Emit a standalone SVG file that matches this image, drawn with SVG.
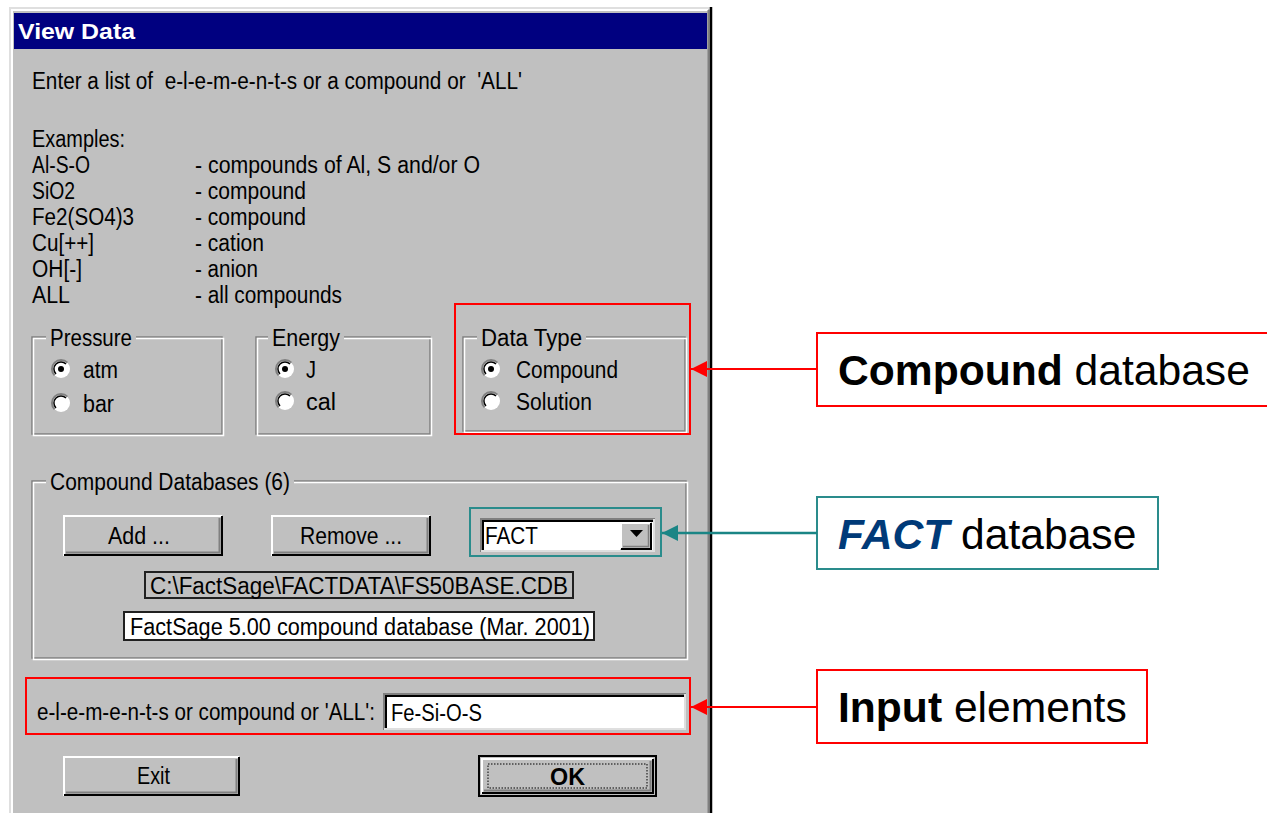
<svg xmlns="http://www.w3.org/2000/svg" width="1267" height="813" viewBox="0 0 1267 813">
<defs>
<style>
.t{font-family:"Liberation Sans",Arial,sans-serif;font-size:23px;fill:#000;white-space:pre}
.tb{font-family:"Liberation Sans",Arial,sans-serif;font-size:22px;font-weight:bold;fill:#fff}
.c{font-family:"Liberation Sans",Arial,sans-serif;font-size:42.6px;fill:#000}
.hl{fill:none;stroke:#ff0000;stroke-width:2}
.hlt{fill:none;stroke:#2a8c8c;stroke-width:2}
.etchd{fill:none;stroke:#808080;stroke-width:1.5}
.etchl{fill:none;stroke:#ffffff;stroke-width:1.5}
.lt{fill:none;stroke:#ffffff;stroke-width:2}
.dk{fill:none;stroke:#000000;stroke-width:2}
.md{fill:none;stroke:#808080;stroke-width:2}
.bg{fill:#c0c0c0}
</style>
<marker id="arR" markerUnits="userSpaceOnUse" markerWidth="16" markerHeight="16" refX="16" refY="8" orient="auto">
<path d="M0,0 L16,8 L0,16 Z" fill="#ff0000"/>
</marker>
<marker id="arT" markerUnits="userSpaceOnUse" markerWidth="16" markerHeight="16" refX="16" refY="8" orient="auto">
<path d="M0,0 L16,8 L0,16 Z" fill="#1a8585"/>
</marker>
</defs>
<rect width="1267" height="813" fill="#ffffff"/>

<g id="window">
<rect x="9" y="7" width="703" height="810" fill="#c0c0c0"/>
<polyline points="10,813 10,8 710,8" fill="none" stroke="#dfdfdf" stroke-width="2"/>
<polyline points="12,813 12,10 708,10" fill="none" stroke="#ffffff" stroke-width="2"/>
<line x1="708.5" y1="10" x2="708.5" y2="813" stroke="#808080" stroke-width="2"/>
<line x1="711" y1="7" x2="711" y2="813" stroke="#000000" stroke-width="2.5"/>
<rect x="14" y="13" width="693" height="36" fill="#000080"/>
<text class="tb" x="18" y="39" textLength="117" lengthAdjust="spacingAndGlyphs">View Data</text>
</g>

<g id="intro">
<text class="t" x="32" y="89" textLength="490" lengthAdjust="spacingAndGlyphs">Enter a list of  e-l-e-m-e-n-t-s or a compound or  'ALL'</text>
<text class="t" x="32" y="147" textLength="93" lengthAdjust="spacingAndGlyphs">Examples:</text>
<text class="t" x="32" y="173" textLength="58" lengthAdjust="spacingAndGlyphs">Al-S-O</text>
<text class="t" x="32" y="199" textLength="43" lengthAdjust="spacingAndGlyphs">SiO2</text>
<text class="t" x="32" y="225" textLength="102" lengthAdjust="spacingAndGlyphs">Fe2(SO4)3</text>
<text class="t" x="32" y="251" textLength="62" lengthAdjust="spacingAndGlyphs">Cu[++]</text>
<text class="t" x="32" y="277" textLength="50" lengthAdjust="spacingAndGlyphs">OH[-]</text>
<text class="t" x="32" y="303" textLength="38" lengthAdjust="spacingAndGlyphs">ALL</text>
<text class="t" x="195" y="173" textLength="285" lengthAdjust="spacingAndGlyphs">- compounds of Al, S and/or O</text>
<text class="t" x="195" y="199" textLength="111" lengthAdjust="spacingAndGlyphs">- compound</text>
<text class="t" x="195" y="225" textLength="111" lengthAdjust="spacingAndGlyphs">- compound</text>
<text class="t" x="195" y="251" textLength="69" lengthAdjust="spacingAndGlyphs">- cation</text>
<text class="t" x="195" y="277" textLength="63" lengthAdjust="spacingAndGlyphs">- anion</text>
<text class="t" x="195" y="303" textLength="147" lengthAdjust="spacingAndGlyphs">- all compounds</text>
</g>

<g id="pressure">
<rect class="etchd" x="32" y="337" width="190" height="97"/>
<rect class="etchl" x="33.5" y="338.5" width="190" height="97"/>
<rect class="bg" x="46" y="328" width="90" height="16"/>
<text class="t" x="50" y="346" textLength="82" lengthAdjust="spacingAndGlyphs">Pressure</text>
<circle cx="61" cy="369" r="9" fill="#fff"/>
<path d="M54.6,375.4 A9,9 0 0 1 67.4,362.6" class="md"/>
<path d="M56,374 A7,7 0 0 1 66,364" fill="none" stroke="#000" stroke-width="1.5"/>
<circle cx="61" cy="369" r="3" fill="#000"/>
<text class="t" x="83" y="378" textLength="35" lengthAdjust="spacingAndGlyphs">atm</text>
<circle cx="61" cy="403" r="9" fill="#fff"/>
<path d="M54.6,409.4 A9,9 0 0 1 67.4,396.6" class="md"/>
<path d="M56,408 A7,7 0 0 1 66,398" fill="none" stroke="#000" stroke-width="1.5"/>
<text class="t" x="83" y="412" textLength="31" lengthAdjust="spacingAndGlyphs">bar</text>
</g>

<g id="energy">
<rect class="etchd" x="256" y="337" width="174" height="97"/>
<rect class="etchl" x="257.5" y="338.5" width="174" height="97"/>
<rect class="bg" x="268" y="328" width="76" height="16"/>
<text class="t" x="272" y="346" textLength="68" lengthAdjust="spacingAndGlyphs">Energy</text>
<circle cx="285" cy="369" r="9" fill="#fff"/>
<path d="M278.6,375.4 A9,9 0 0 1 291.4,362.6" class="md"/>
<path d="M280,374 A7,7 0 0 1 290,364" fill="none" stroke="#000" stroke-width="1.5"/>
<circle cx="285" cy="369" r="3" fill="#000"/>
<text class="t" x="306" y="378" textLength="10" lengthAdjust="spacingAndGlyphs">J</text>
<circle cx="285" cy="401" r="9" fill="#fff"/>
<path d="M278.6,407.4 A9,9 0 0 1 291.4,394.6" class="md"/>
<path d="M280,406 A7,7 0 0 1 290,396" fill="none" stroke="#000" stroke-width="1.5"/>
<text class="t" x="306" y="410" textLength="30" lengthAdjust="spacingAndGlyphs">cal</text>
</g>

<g id="datatype">
<rect class="etchd" x="463" y="337" width="222" height="94"/>
<rect class="etchl" x="464.5" y="338.5" width="222" height="94"/>
<rect class="bg" x="477" y="328" width="109" height="16"/>
<text class="t" x="481" y="346" textLength="101" lengthAdjust="spacingAndGlyphs">Data Type</text>
<circle cx="491" cy="369" r="9" fill="#fff"/>
<path d="M484.6,375.4 A9,9 0 0 1 497.4,362.6" class="md"/>
<path d="M486,374 A7,7 0 0 1 496,364" fill="none" stroke="#000" stroke-width="1.5"/>
<circle cx="491" cy="369" r="3" fill="#000"/>
<text class="t" x="516" y="378" textLength="102" lengthAdjust="spacingAndGlyphs">Compound</text>
<circle cx="491" cy="401" r="9" fill="#fff"/>
<path d="M484.6,407.4 A9,9 0 0 1 497.4,394.6" class="md"/>
<path d="M486,406 A7,7 0 0 1 496,396" fill="none" stroke="#000" stroke-width="1.5"/>
<text class="t" x="516" y="410" textLength="76" lengthAdjust="spacingAndGlyphs">Solution</text>
<rect class="hl" x="455" y="304" width="235" height="130"/>
</g>

<g id="compound-databases">
<rect class="etchd" x="32" y="481" width="654" height="177"/>
<rect class="etchl" x="33.5" y="482.5" width="654" height="177"/>
<rect class="bg" x="46" y="472" width="248" height="16"/>
<text class="t" x="50" y="490" textLength="240" lengthAdjust="spacingAndGlyphs">Compound Databases (6)</text>

<g id="btn-add">
<rect x="63" y="515" width="160" height="41" fill="#c0c0c0"/>
<polyline class="lt" points="64,556 64,516 222,516"/>
<polyline class="dk" points="222,516 222,555 64,555"/>
<polyline class="md" points="219.5,518 219.5,552.5 66,552.5"/>
<text class="t" x="108" y="544" textLength="62" lengthAdjust="spacingAndGlyphs">Add ...</text>
</g>
<g id="btn-remove">
<rect x="271" y="515" width="160" height="41" fill="#c0c0c0"/>
<polyline class="lt" points="272,556 272,516 430,516"/>
<polyline class="dk" points="430,516 430,555 272,555"/>
<polyline class="md" points="427.5,518 427.5,552.5 274,552.5"/>
<text class="t" x="300" y="544" textLength="102" lengthAdjust="spacingAndGlyphs">Remove ...</text>
</g>
<g id="combo">
<rect x="480" y="518" width="175" height="34" fill="#ffffff"/>
<polyline class="md" points="481,552 481,519 655,519"/>
<polyline points="483,550 483,521 653,521" fill="none" stroke="#000" stroke-width="2"/>
<polyline points="654,519 654,551 481,551" fill="none" stroke="#dfdfdf" stroke-width="2"/>
<text class="t" x="485" y="544" textLength="53" lengthAdjust="spacingAndGlyphs">FACT</text>
<rect x="620" y="522" width="32" height="28" fill="#c0c0c0"/>
<polyline points="621,549 621,523 651,523" fill="none" stroke="#fff" stroke-width="2"/>
<polyline points="651,523 651,549 621,549" fill="none" stroke="#000" stroke-width="2"/>
<polyline points="648.5,525 648.5,546.5 623,546.5" fill="none" stroke="#808080" stroke-width="1.5"/>
<polygon points="630,530 643,530 636.5,537" fill="#000"/>
<rect class="hlt" x="470" y="508" width="191" height="48"/>
</g>
<rect x="145" y="572" width="428" height="26" fill="#c0c0c0" stroke="#202020" stroke-width="2"/>
<text class="t" x="150" y="594" textLength="418" lengthAdjust="spacingAndGlyphs">C:\FactSage\FACTDATA\FS50BASE.CDB</text>
<rect x="124" y="612" width="470" height="28" fill="#ffffff" stroke="#202020" stroke-width="2"/>
<text class="t" x="130" y="635" textLength="460" lengthAdjust="spacingAndGlyphs">FactSage 5.00 compound database (Mar. 2001)</text>
</g>

<g id="input-row">
<text class="t" x="37" y="720" font-size="20" textLength="338" lengthAdjust="spacingAndGlyphs">e-l-e-m-e-n-t-s or compound or 'ALL':</text>
<rect x="383" y="693" width="303" height="37" fill="#ffffff"/>
<polyline class="md" points="384,730 384,694 686,694"/>
<polyline points="386,728 386,696 684,696" fill="none" stroke="#000" stroke-width="2"/>
<polyline points="685,694 685,729 384,729" fill="none" stroke="#dfdfdf" stroke-width="2"/>
<text class="t" x="391" y="721" textLength="91" lengthAdjust="spacingAndGlyphs">Fe-Si-O-S</text>
<rect class="hl" x="26" y="678" width="664" height="56"/>
</g>

<g id="btn-exit">
<rect x="63" y="756" width="177" height="40" fill="#c0c0c0"/>
<polyline class="lt" points="64,796 64,757 239,757"/>
<polyline class="dk" points="239,757 239,795 64,795"/>
<polyline class="md" points="236.5,759 236.5,792.5 66,792.5"/>
<text class="t" x="137" y="784" textLength="33" lengthAdjust="spacingAndGlyphs">Exit</text>
</g>
<g id="btn-ok">
<rect x="479" y="756" width="177" height="40" fill="#c0c0c0" stroke="#000" stroke-width="2"/>
<polyline class="lt" points="482,794 482,759 653,759"/>
<polyline class="dk" points="653,759 653,793 482,793"/>
<polyline class="md" points="650.5,761 650.5,790.5 484,790.5"/>
<rect x="488" y="764" width="159" height="24" fill="none" stroke="#000" stroke-width="1" stroke-dasharray="1.5 1.5"/>
<text class="t" x="550" y="785" textLength="35" lengthAdjust="spacingAndGlyphs" font-weight="bold" font-size="25">OK</text>
</g>

<g id="callout-compound">
<rect x="817" y="333" width="452" height="73" fill="#fff" stroke="#ff0000" stroke-width="2"/>
<text class="c" x="838" y="385"><tspan font-weight="bold">Compound</tspan> database</text>
</g>
<g id="callout-fact">
<rect x="817" y="497" width="341" height="72" fill="#fff" stroke="#2a8c8c" stroke-width="2"/>
<text class="c" x="838" y="549"><tspan font-weight="bold" font-style="italic" fill="#003a78">FACT</tspan> database</text>
</g>
<g id="callout-input">
<rect x="817" y="670" width="330" height="73" fill="#fff" stroke="#ff0000" stroke-width="2"/>
<text class="c" x="838" y="722"><tspan font-weight="bold">Input</tspan> elements</text>
</g>

<g id="connectors">
<line x1="817" y1="369" x2="691" y2="369" stroke="#ff0000" stroke-width="2" marker-end="url(#arR)"/>
<line x1="817" y1="533" x2="662" y2="533" stroke="#1a8585" stroke-width="2.5" marker-end="url(#arT)"/>
<line x1="817" y1="707" x2="691" y2="707" stroke="#ff0000" stroke-width="2" marker-end="url(#arR)"/>
</g>
</svg>
